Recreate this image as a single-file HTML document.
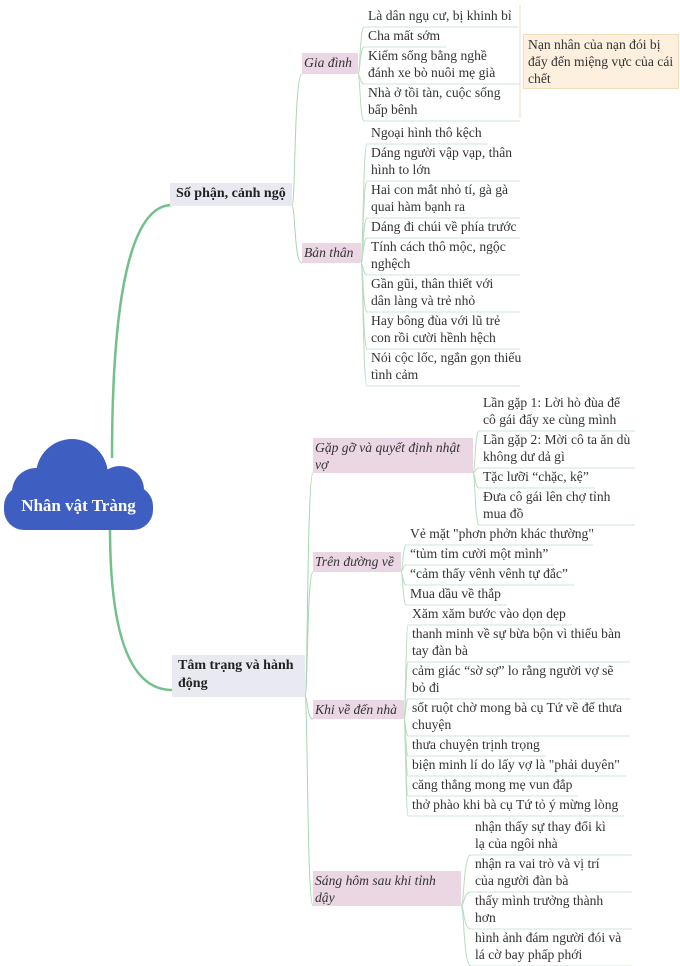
<!DOCTYPE html>
<html><head><meta charset="utf-8">
<style>
html,body{margin:0;padding:0;background:#fff;}
#c{position:relative;width:680px;height:966px;overflow:hidden;font-family:"Liberation Serif",serif;color:#333;}
.t{position:absolute;font-size:13.6px;line-height:17px;white-space:nowrap;}
.p{position:absolute;background:#ead7e3;font-style:italic;font-size:13.6px;line-height:17px;padding:1px 2px;box-sizing:border-box;color:#333;}
.b{position:absolute;background:#e9e9f2;font-weight:bold;font-size:14px;line-height:18px;padding:2px 6px;box-sizing:border-box;color:#222;}
svg{position:absolute;left:0;top:0;}
</style></head><body><div id="c">
<svg id="s" width="680" height="966">
<path d="M112,458 C112,300 130,205 172,205" stroke="#74c08a" stroke-width="2.5" fill="none"/>
<path d="M110,528 C110,620 125,690 172,690" stroke="#74c08a" stroke-width="2.5" fill="none"/>
<line x1="520" y1="5" x2="520" y2="118" stroke="#efe2c4" stroke-width="1"/>
<g fill="#3e5fc1">
<circle cx="72" cy="475" r="36"/>
<circle cx="36" cy="492" r="24"/>
<circle cx="120" cy="490" r="24"/>
<rect x="4" y="486" width="149" height="44" rx="20"/>
</g>
</svg>
<div class="t" style="left:0;top:497px;width:157px;text-align:center;color:#fff;font-weight:bold;font-size:17px;">Nhân vật Tràng</div>

<div class="b" style="left:170px;top:183px;width:122px;height:23px;white-space:nowrap;">Số phận, cảnh ngộ</div>
<div class="b" style="left:172px;top:655px;width:133px;height:42px;white-space:normal;">Tâm trạng và hành động</div>

<div class="p" style="left:302px;top:53px;width:56px;height:21px;white-space:nowrap;">Gia đình</div>
<div class="p" style="left:302px;top:243px;width:59px;height:20px;white-space:nowrap;">Bản thân</div>
<div class="p" style="left:313px;top:438px;width:160px;height:35px;">Gặp gỡ và quyết định nhật<br>vợ</div>
<div class="p" style="left:313px;top:552px;width:88px;height:20px;white-space:nowrap;">Trên đường về</div>
<div class="p" style="left:313px;top:700px;width:91px;height:19px;white-space:nowrap;">Khi về đến nhà</div>
<div class="p" style="left:313px;top:871px;width:148px;height:35px;">Sáng hôm sau khi tỉnh<br>dậy</div>

<div style="position:absolute;left:523px;top:34px;width:156px;height:55px;background:#fdf0df;border:1px solid #f3dcb8;box-sizing:border-box;font-size:13.6px;line-height:17px;padding:1px 4px;white-space:nowrap;">Nạn nhân của nạn đói bị<br>đẩy đến miệng vực của cái<br>chết</div>

<div id="items"></div>
</div>
<script>
var groups=[
 {px:292,py:206,kids:[[358,74,368,520,[["Là dân ngụ cư, bị khinh bỉ"],["Cha mất sớm"],["Kiếm sống bằng nghề","đánh xe bò nuôi mẹ già"],["Nhà ở tồi tàn, cuộc sống","bấp bênh"]],7],
                       [361,263,371,520,[["Ngoại hình thô kệch"],["Dáng người vập vạp, thân","hình to lớn"],["Hai con mắt nhỏ tí, gà gà","quai hàm bạnh ra"],["Dáng đi chúi về phía trước"],["Tính cách thô mộc, ngộc","nghệch"],["Gần gũi, thân thiết với","dân làng và trẻ nhỏ"],["Hay bông đùa với lũ trẻ","con rồi cười hềnh hệch"],["Nói cộc lốc, ngắn gọn thiếu","tình cảm"]],124]]},
 {px:305,py:697,kids:[[473,473,483,635,[["Lần gặp 1: Lời hò đùa để","cô gái đẩy xe cùng mình"],["Lần gặp 2: Mời cô ta ăn dù","không dư dả gì"],["Tặc lưỡi “chặc, kệ”"],["Đưa cô gái lên chợ tỉnh","mua đồ"]],394],
                      [401,572,410,593,[["Vẻ mặt \"phơn phởn khác thường\""],["“tủm tỉm cười một mình”"],["“cảm thấy vênh vênh tự đắc”"],["Mua dầu về thắp"]],525],
                      [404,719,412,630,[["Xăm xăm bước vào dọn dẹp"],["thanh minh về sự bừa bộn vì thiếu bàn","tay đàn bà"],["cảm giác “sờ sợ” lo rằng người vợ sẽ","bỏ đi"],["sốt ruột chờ mong bà cụ Tứ về để thưa","chuyện"],["thưa chuyện trịnh trọng"],["biện minh lí do lấy vợ là \"phải duyên\""],["căng thẳng mong mẹ vun đắp"],["thở phào khi bà cụ Tứ tỏ ý mừng lòng"]],605],
                      [461,906,475,632,[["nhận thấy sự thay đổi kì","lạ của ngôi nhà"],["nhận ra vai trò và vị trí","của người đàn bà"],["thấy mình trưởng thành","hơn"],["hình ảnh đám người đói và","lá cờ bay phấp phới"]],818]]}
];
var parentBoxes=[[[302,74],[302,263]],[[313,473],[313,572],[313,719],[313,906]]];
var svg=document.getElementById('s'),box=document.getElementById('items');
var ns='http://www.w3.org/2000/svg';
function path(d,c,w){var p=document.createElementNS(ns,'path');p.setAttribute('d',d);p.setAttribute('stroke',c);p.setAttribute('stroke-width',w);p.setAttribute('fill','none');svg.appendChild(p);}
function curve(x1,y1,x2,y2){var m=x1+(x2-x1)*0.35;return 'M'+x1+','+y1+' C'+m+','+y1+' '+(x1+2)+','+y2+' '+x2+','+y2;}
groups.forEach(function(g,gi){
 g.kids.forEach(function(k,ki){
  var pb=parentBoxes[gi][ki];
  path(curve(g.px,g.py,pb[0],pb[1]),'#a8d5b3',1);
  var x=k[2],r=k[3],y=k[5];
  k[4].forEach(function(lines){
   var hh=lines.length*17+3;
   var d=document.createElement('div');d.className='t';d.style.left=x+'px';d.style.top=y+'px';
   d.innerHTML=lines.join('<br>');box.appendChild(d);
   var rr=lines.length>1?r:Math.min(r,x+d.offsetWidth+6);
   var by=y+hh;
   path(curve(k[0],k[1],x-4,by),'#b9dcc1',1);
   path('M'+(x-4)+','+by+' L'+rr+','+by,'#cfe5d4',1);
   y+=hh;
  });
 });
});
</script>
</body></html>
